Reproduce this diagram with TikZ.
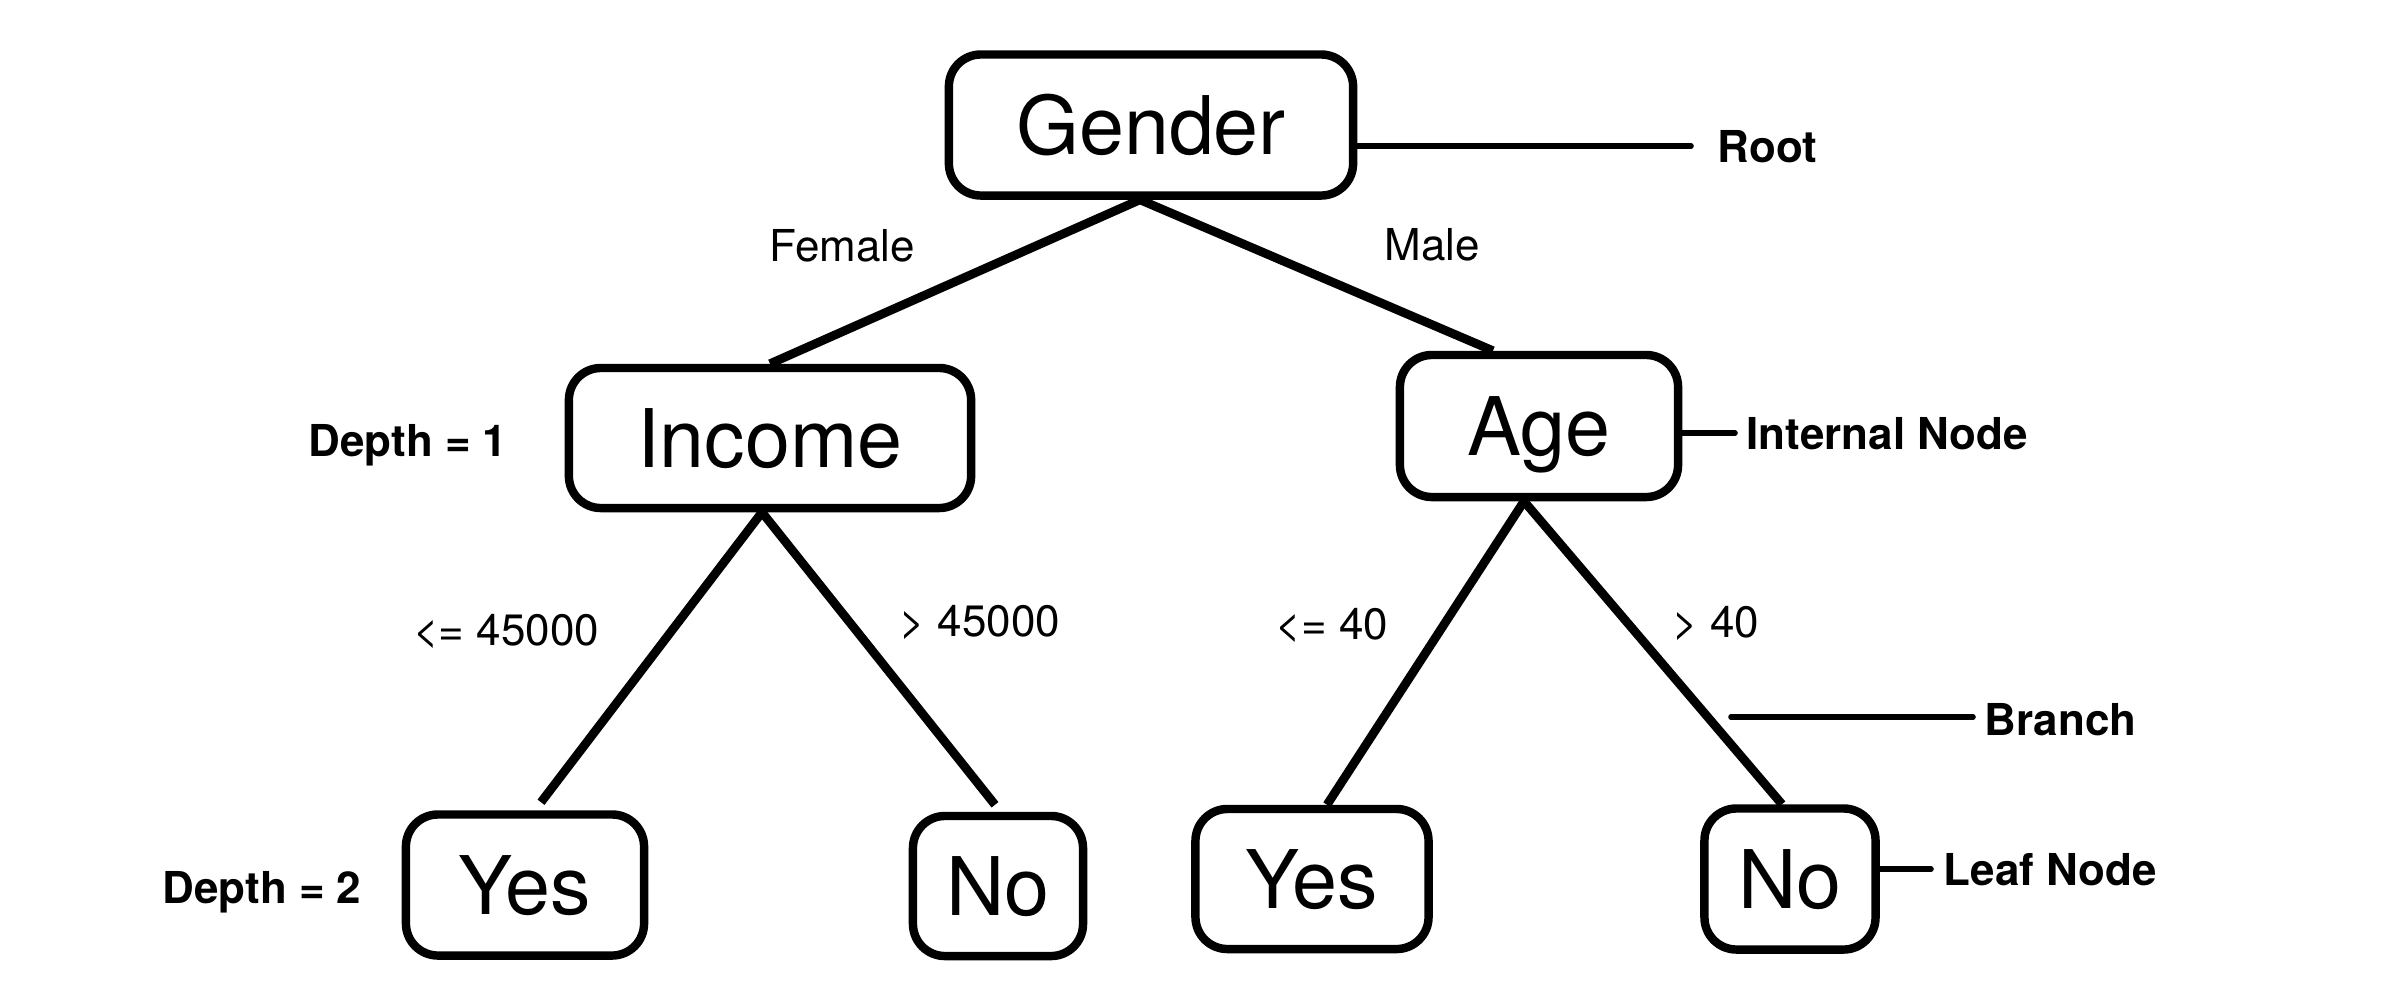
\documentclass[tikz,border=0pt]{standalone}
\usepackage{fontspec}
\setmainfont{TeX Gyre Heros}

\begin{document}
\begin{tikzpicture}[x=0.01cm,y=-0.01cm,
    box/.style={draw,line width=2.4pt,rounded corners=0.32cm,inner sep=0pt,
      text height=16.5pt,text depth=0pt,font=\fontsize{23}{27}\selectfont},
    edge/.style={line width=2.5pt},
    cond/.style={inner sep=0pt,text height=9pt,text depth=0pt,font=\fontsize{12.5}{15}\selectfont},
    note/.style={inner sep=0pt,text height=9pt,text depth=0pt,anchor=west,font=\bfseries\fontsize{12.5}{15}\selectfont},
    noteline/.style={line width=1.6pt,line cap=round}]
    \useasboundingbox (0,0) rectangle (2381,999);
    % tree nodes
    \node[box,minimum width=4.04cm,minimum height=1.41cm] (gender) at (1151,125) {Gender};
    \node[box,minimum width=4.02cm,minimum height=1.40cm] (income) at (770,438) {Income};
    \node[box,minimum width=2.78cm,minimum height=1.42cm] (age) at (1539,426) {Age};
    \node[box,minimum width=2.38cm,minimum height=1.41cm] (yesL) at (525,885) {Yes};
    \node[box,minimum width=1.70cm,minimum height=1.40cm] (noL) at (998,886) {No};
    \node[box,minimum width=2.33cm,minimum height=1.40cm] (yesR) at (1312,879) {Yes};
    \node[box,minimum width=1.71cm,minimum height=1.41cm] (noR) at (1790,879) {No};
    % branches
    \draw[edge] ([xshift=-0.11cm]gender.south) -- (income.north);
    \draw[edge] ([xshift=-0.11cm]gender.south) -- ([xshift=-0.46cm]age.north);
    \draw[edge] ([xshift=-0.08cm]income.south) -- ([xshift=0.16cm,yshift=0.08cm]yesL.north);
    \draw[edge] ([xshift=-0.08cm]income.south) -- ([xshift=-0.03cm,yshift=0.07cm]noL.north);
    \draw[edge] ([xshift=-0.15cm]age.south) -- ([xshift=0.15cm]yesR.north);
    \draw[edge] ([xshift=-0.15cm]age.south) -- ([xshift=-0.08cm]noR.north);
    % conditions
    \node[cond] (female) at (842,246) {Female};
    \node[cond] (male) at (1432,245) {Male};
    \node[cond] (le45) at (506,630) {<= 45000};
    \node[cond] (gt45) at (980,621) {> 45000};
    \node[cond] (le40) at (1332,624) {<= 40};
    \node[cond] (gt40) at (1716,622) {> 40};
    % depth labels
    \node[note,anchor=center] (depth1) at (408,441) {Depth = 1};
    \node[note,anchor=center] (depth2) at (262,888) {Depth = 2};
    % annotations
    \node[note] (root) at (1717,147) {Root};
    \coordinate (rootend) at (1691,146);
    \draw[noteline] (gender.east |- rootend) -- (rootend);
    \node[note] (internal) at (1746,434) {Internal Node};
    \coordinate (internalend) at (1735,433);
    \draw[noteline] (age.east |- internalend) -- (internalend);
    \node[note] (branch) at (1984,720) {Branch};
    \coordinate (branchstart) at (1731,717);
    \coordinate (branchend) at (1973,717);
    \draw[noteline] (branchstart) -- (branchend);
    \node[note] (leaf) at (1943,870) {Leaf Node};
    \coordinate (leafend) at (1931,869);
    \draw[noteline] (noR.east |- leafend) -- (leafend);
\end{tikzpicture}
\end{document}
